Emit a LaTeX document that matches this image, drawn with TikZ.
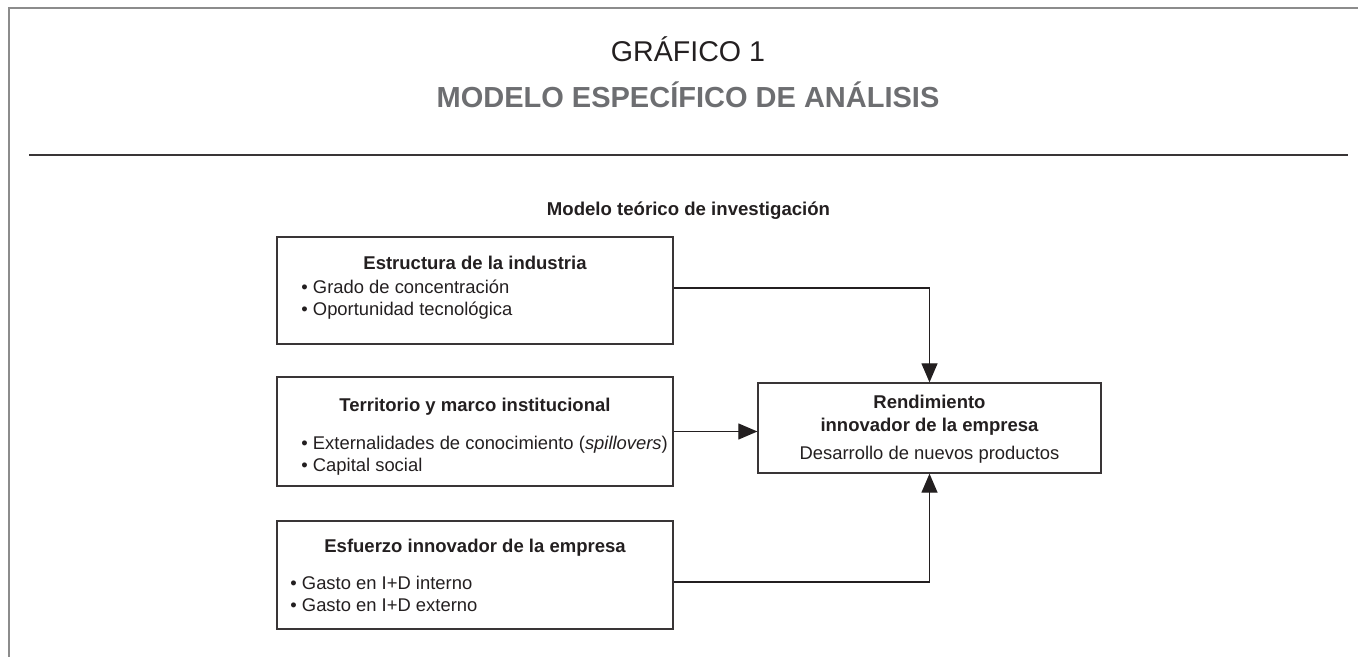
\documentclass[tikz,border=0pt]{standalone}
\usepackage{fontspec}
\setmainfont{Liberation Sans}
\usetikzlibrary{arrows.meta}

\definecolor{framegray}{HTML}{8C8C8C}
\definecolor{titlegray}{HTML}{6D6E71}
\definecolor{inkdark}{HTML}{231F20}

\tikzset{
  box/.style={draw=inkdark!90, line width=0.65pt, minimum width=198pt, inner sep=0pt},
  head/.style={font=\fontsize{9.25}{11}\selectfont\bfseries, text=inkdark, anchor=base},
  item/.style={font=\fontsize{9.2}{11}\selectfont, text=inkdark, anchor=base west, inner sep=0pt},
  body/.style={font=\fontsize{9.2}{11}\selectfont, text=inkdark, anchor=base},
  arr/.style={draw=inkdark, line width=0.6pt, -{Triangle[length=9.5pt,width=8pt]}},
}

\begin{document}
\begin{tikzpicture}[x=0.5pt,y=-0.5pt]
\useasboundingbox (0,0) rectangle (1358,657);
% marco y titulos
\draw[framegray,line width=1pt] (8.5,657) -- (8.5,8.5) -- (1358,8.5);
\node[anchor=base,text=inkdark,font=\fontsize{14.3}{17}\selectfont] (tit) at (688,62) {GRÁFICO 1};
\node[anchor=base,text=titlegray,font=\fontsize{14.5}{17}\selectfont\bfseries] (sub) at (688,108) {MODELO ESPECÍFICO DE ANÁLISIS};
\draw[inkdark!90,line width=0.7pt] (29,155) -- (1348,155);
\node[head,font=\fontsize{9.3}{11}\selectfont\bfseries] (mod) at (688.5,216) {Modelo teórico de investigación};

% cajas de la izquierda
\node[box,minimum height=53.5pt] (ind) at (475,290.5) {};
\node[head] (ind-t) at (475,270) {Estructura de la industria};
\node[item] (ind-a) at (301,293) {• Grado de concentración};
\node[item] (ind-b) at (301,315.5) {• Oportunidad tecnológica};

\node[box,minimum height=54.5pt] (ter) at (475,431.5) {};
\node[head] (ter-t) at (475,411) {Territorio y marco institucional};
\node[item] (ter-a) at (301,449) {• Externalidades de conocimiento (\textit{spillovers})};
\node[item] (ter-b) at (301,471.5) {• Capital social};

\node[box,minimum height=54pt] (esf) at (475,575) {};
\node[head] (esf-t) at (475,552) {Esfuerzo innovador de la empresa};
\node[item] (esf-a) at (290,589) {• Gasto en I+D interno};
\node[item] (esf-b) at (290,611.5) {• Gasto en I+D externo};

% caja de resultado
\node[box,minimum width=171.5pt,minimum height=45pt] (rend) at (929.5,428) {};
\node[head] (rend-t) at (929.5,408) {Rendimiento};
\node[head] (rend-u) at (929.5,431) {innovador de la empresa};
\node[body] (rend-d) at (929.5,459) {Desarrollo de nuevos productos};

% flechas
\draw[arr] ([yshift=1.25pt]ind.east) -| (rend.north);
\draw[arr] (ter.east) -- (ter.east -| rend.west);
\draw[arr] ([yshift=-3.5pt]esf.east) -| (rend.south);
\end{tikzpicture}
\end{document}
